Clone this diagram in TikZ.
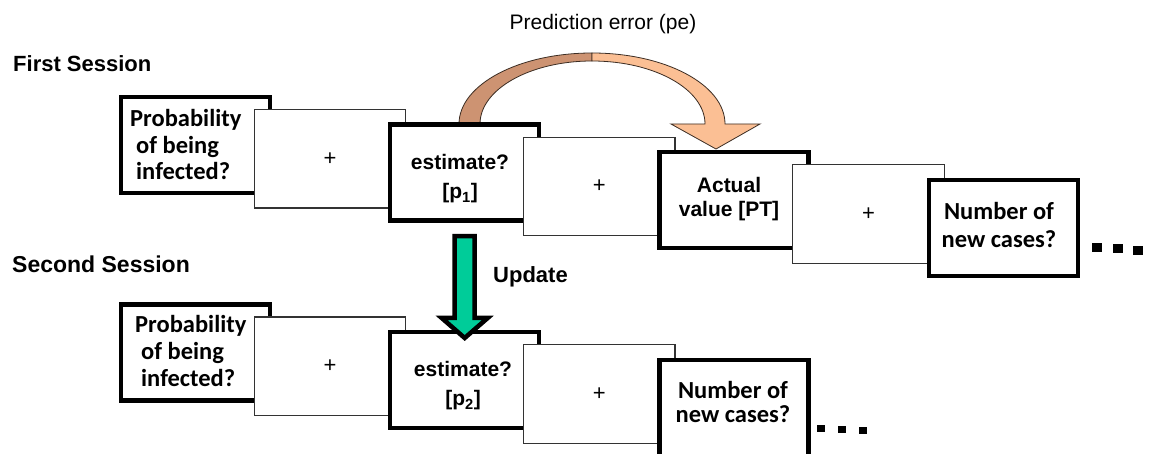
\documentclass[tikz,border=0pt]{standalone}
\usepackage{fontspec}
\setmainfont{Liberation Sans}
\newfontfamily\calib{Carlito}
\definecolor{pedark}{RGB}{205,147,114}
\definecolor{pelight}{RGB}{251,191,148}
\definecolor{updgreen}{RGB}{0,204,153}
\definecolor{outl}{RGB}{60,45,35}
\tikzset{
  thickbox/.style={rectangle, draw=black, line width=4.2pt, fill=white,
    minimum width=149pt, minimum height=96pt, inner sep=0pt},
  thinbox/.style={rectangle, draw=black!80, line width=1.2pt, fill=white,
    minimum width=151.5pt, minimum height=98.5pt, inner sep=0pt,
    font=\fontsize{22}{24}\selectfont},
  ctext/.style={font=\calib\bfseries\fontsize{24.5}{26}\selectfont, inner sep=0pt, anchor=base west},
  atext/.style={font=\bfseries\fontsize{21}{24}\selectfont, inner sep=0pt, anchor=base},
  ctextc/.style={font=\calib\bfseries\fontsize{24.5}{26}\selectfont, inner sep=0pt, anchor=base},
  title/.style={font=\bfseries\fontsize{22}{24}\selectfont, inner sep=0pt, anchor=base west},
  dotsq/.style={fill=black}
}
\begin{document}
\begin{tikzpicture}[x=1pt,y=-1pt]
\useasboundingbox (0,0) rectangle (1152,454);
\clip (0,0) rectangle (1152,454);
\fill[white] (0,0) rectangle (1152,454);

% curved prediction-error arrow (behind the boxes)
\path[draw=outl, line width=0.8pt, fill=pedark]
  (459,124) arc[start angle=180, end angle=90, x radius=133pt, y radius=71pt]
  -- (592,61) arc[start angle=90, end angle=180, x radius=112pt, y radius=63pt]
  -- cycle;
\path[draw=outl, line width=0.8pt, fill=pelight, line join=miter]
  (592,53) arc[start angle=90, end angle=0, x radius=133pt, y radius=71pt]
  -- (760,124) -- (716,149) -- (671,124) -- (705,124)
  arc[start angle=0, end angle=90, x radius=113pt, y radius=63pt]
  -- cycle;

\node[anchor=base, font=\fontsize{21}{24}\selectfont, inner sep=0pt] (pe) at (603,30) {Prediction error (pe)};
\node[title] (s1) at (13,72) {First Session};
\node[title, font=\bfseries\fontsize{23}{25}\selectfont] (s2) at (12,273) {Second Session};

% first session
\node[thickbox] (A1) at (195.5,145) {};
\node[thinbox]  (P1) at (330.1,158.8) {+};
\node[thickbox] (B1) at (464.7,172.6) {};
\node[thinbox]  (P2) at (599.3,186.4) {+};
\node[thickbox] (C1) at (733.9,200.2) {};
\node[thinbox]  (P3) at (868.5,214) {+};
\node[thickbox] (D1) at (1003.1,227.8) {};

\node[ctext] (A1a) at (130,127) {Probability};
\node[ctext] (A1b) at (136,153.5) {of being};
\node[ctext] (A1c) at (136,180) {infected?};
\node[atext] (B1a) at (460,170) {estimate?};
\node[atext] (B1b) at (460,199) {{[}p\textsubscript{1}]};
\node[atext] (C1a) at (729,193) {Actual};
\node[atext] (C1b) at (729,217) {value [PT]};
\node[ctextc] (D1a) at (999,220) {Number of};
\node[ctextc] (D1b) at (999,248) {new cases?};

\fill[dotsq] (1092,243) rectangle (1102,252);
\fill[dotsq] (1113,244.5) rectangle (1123,253.5);
\fill[dotsq] (1133,246) rectangle (1143,255);

% second session
\node[thickbox] (A2) at (195.5,352.5) {};
\node[thinbox]  (P4) at (330.1,366.3) {+};
\node[thickbox] (B2) at (464.7,380.1) {};
\node[thinbox]  (P5) at (599.3,393.9) {+};
\node[thickbox] (E2) at (733.9,407.7) {};

\node[ctext] (A2a) at (135,333) {Probability};
\node[ctext] (A2b) at (141,360) {of being};
\node[ctext] (A2c) at (141,387) {infected?};
\node[atext] (B2a) at (463,377) {estimate?};
\node[atext] (B2b) at (463,406) {{[}p\textsubscript{2}]};
\node[ctextc] (E2a) at (733,399) {Number of};
\node[ctextc] (E2b) at (733,422) {new cases?};

\fill[dotsq] (817,425) rectangle (825,432);
\fill[dotsq] (838,426) rectangle (846,433);
\fill[dotsq] (858.5,427) rectangle (866.5,434);

% update arrow
\coordinate (gTop) at ([yshift=-13.5pt]B1.south);
\coordinate (gBase) at ([yshift=12pt]B2.north);
\coordinate (gTip) at ([yshift=-8pt]B2.north);
\path[draw=black, line width=4.5pt, line join=miter, fill=updgreen]
  ([xshift=-10pt]gTop) -- ([xshift=10pt]gTop) -- ([xshift=10pt]gBase)
  -- ([xshift=23pt]gBase) -- (gTip) -- ([xshift=-23pt]gBase)
  -- ([xshift=-10pt]gBase) -- cycle;
\node[title] (upd) at (493,283) {Update};
\end{tikzpicture}
\end{document}
